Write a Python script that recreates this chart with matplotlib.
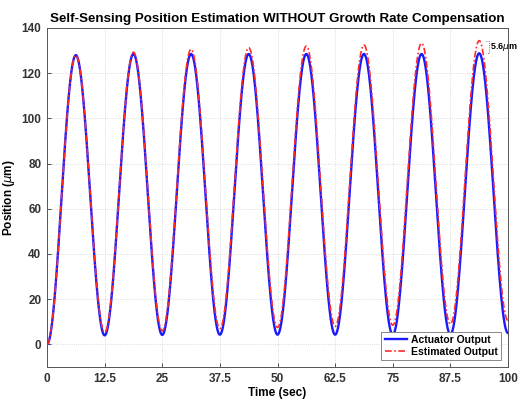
import numpy as np
import matplotlib
matplotlib.use("Agg")
import matplotlib.pyplot as plt

plt.rcParams['font.family'] = ['Liberation Sans', 'DejaVu Sans']
plt.rcParams['mathtext.fontset'] = 'dejavusans'

# Extremum times (s) and values (um)
peak_times = [6.25, 18.75, 31.25, 43.75, 56.25, 68.75, 81.25, 93.75]
trough_times = [0, 12.5, 25, 37.5, 50, 62.5, 75, 87.5, 100]
actuator_peaks = [128.0, 128.5, 128.5, 128.5, 128.5, 128.5, 128.5, 128.8]
actuator_troughs = [0.0, 4.0, 4.2, 4.3, 4.3, 4.3, 4.3, 4.4, 5.0]
estimated_peaks = [128.0, 129.3, 130.6, 131.3, 132.0, 132.5, 133.3, 134.4]
estimated_troughs = [0.0, 5.3, 6.0, 7.0, 7.5, 8.0, 8.5, 9.0, 10.5]

xticks = [0, 12.5, 25, 37.5, 50, 62.5, 75, 87.5, 100]
xticklabels = ['0', '12.5', '25', '37.5', '50', '62.5', '75', '87.5', '100']
yticks = [0, 20, 40, 60, 80, 100, 120, 140]
annot_text = r'5.6$\mu$m'


def smooth_through(times, values, t):
    """Cosine-shaped interpolation between successive extrema."""
    times = np.asarray(times, float)
    values = np.asarray(values, float)
    idx = np.clip(np.searchsorted(times, t, side='right') - 1, 0, len(times) - 2)
    t0, t1 = times[idx], times[idx + 1]
    v0, v1 = values[idx], values[idx + 1]
    ph = (t - t0) / (t1 - t0)
    return v0 + (v1 - v0) * (1 - np.cos(np.pi * ph)) / 2


def merge(tr_t, tr_v, pk_t, pk_v):
    pts = sorted(list(zip(tr_t, tr_v)) + list(zip(pk_t, pk_v)))
    return [p[0] for p in pts], [p[1] for p in pts]


t = np.linspace(0, 100, 4001)
at, av = merge(trough_times, actuator_troughs, peak_times, actuator_peaks)
et, ev = merge(trough_times, estimated_troughs, peak_times, estimated_peaks)
act = smooth_through(at, av, t)
est = smooth_through(et, ev, t)

fig = plt.figure(figsize=(5.23, 3.99), dpi=100)
ax = fig.add_axes([47 / 523, 32 / 399, 461 / 523, 339 / 399])

ax.plot(t, act, color='#1a1aff', lw=1.7, label='Actuator Output')
ax.plot(t, est, color='#ff2a2a', lw=1.2, ls=(0, (4, 1.5, 1, 1.5)), label='Estimated Output')

ax.set_xlim(0, 100)
ax.set_ylim(-10, 140)
ax.set_xticks(xticks)
ax.set_xticklabels(xticklabels)
ax.set_yticks(yticks)
ax.grid(True, color='#d0d0d0', lw=0.6, ls=':')
ax.tick_params(direction='in', length=3, width=0.6, colors='#333333',
               labelsize=8.5, pad=4)
for lab in ax.get_xticklabels() + ax.get_yticklabels():
    lab.set_fontweight('bold')
for s in ax.spines.values():
    s.set_color('#555555')
    s.set_linewidth(0.7)

ax.set_title('Self-Sensing Position Estimation WITHOUT Growth Rate Compensation',
             fontsize=9.6, fontweight='bold', pad=4)
ax.set_xlabel('Time (sec)', fontsize=8.5, fontweight='bold', labelpad=2)
ax.set_ylabel(r'Position ($\mu$m)', fontsize=8.5, fontweight='bold', labelpad=3)

# annotation bracket for the peak difference
xb = 95.8
ax.plot([xb - 0.6, xb, xb, xb - 0.6],
        [estimated_peaks[-1], estimated_peaks[-1], actuator_peaks[-1], actuator_peaks[-1]],
        color='#444444', lw=0.6, ls=':', clip_on=False)
ax.text(xb + 0.3, (estimated_peaks[-1] + actuator_peaks[-1]) / 2, annot_text,
        fontsize=6.5, fontweight='bold', va='center', ha='left', clip_on=False)

leg = ax.legend(loc='lower right', bbox_to_anchor=(0.984, 0.02), borderaxespad=0,
                prop={'size': 7.5, 'weight': 'bold'}, fancybox=False,
                handlelength=2.2, handletextpad=0.3, borderpad=0.3,
                labelspacing=0.2, framealpha=1)
leg.get_frame().set_edgecolor('#888888')
leg.get_frame().set_linewidth(0.7)

fig.savefig('out.png', dpi=100)
